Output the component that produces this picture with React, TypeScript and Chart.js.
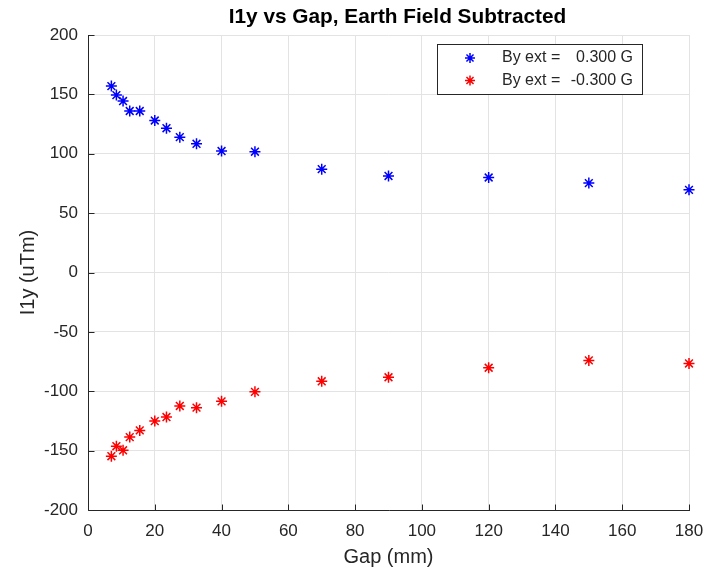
import React, { useEffect, useRef } from "react";
import { Chart, registerables } from "chart.js";

Chart.register(...registerables);

const gapMm = [7, 8.5, 10.5, 12.5, 15.5, 20, 23.5, 27.5, 32.5, 40, 50, 70, 90, 120, 150, 180];
const i1yPos = [157, 149.4, 144.4, 136, 136, 128, 121.5, 114, 108.4, 102.3, 101.7, 87, 81.3, 80, 75.3, 69.6];
const i1yNeg = [-154.7, -146.3, -149.7, -138.6, -133, -125.1, -121.7, -112.4, -113.8, -108.5, -100.5, -91.6, -88.2, -80.2, -74, -76.6];
const seriesLabels = ["By ext =   0.300 G", "By ext =  -0.300 G"];
const seriesColors = ["#0000ff", "#ff0000"];
const xRange = [0, 180, 20];
const yRange = [-200, 200, 50];
const chartTitle = "I1y vs Gap, Earth Field Subtracted";
const xTitle = "Gap (mm)";
const yTitle = "I1y (uTm)";

const FONT = "'Liberation Sans', Arial, Helvetica, sans-serif";
const INK = "#262626";

function drawStar(ctx: CanvasRenderingContext2D, cx: number, cy: number, r: number, color: string) {
  ctx.save();
  ctx.strokeStyle = color;
  ctx.lineWidth = 1.5;
  ctx.beginPath();
  ctx.moveTo(cx - r, cy);
  ctx.lineTo(cx + r, cy);
  ctx.moveTo(cx, cy - r);
  ctx.lineTo(cx, cy + r);
  const d = r * Math.SQRT1_2;
  ctx.moveTo(cx - d, cy - d);
  ctx.lineTo(cx + d, cy + d);
  ctx.moveTo(cx - d, cy + d);
  ctx.lineTo(cx + d, cy - d);
  ctx.stroke();
  ctx.restore();
}

const decorPlugin = {
  id: "matlabDecor",
  afterDraw(chart: any) {
    const { ctx, chartArea: a, scales } = chart;
    const xs = scales.x;
    const ys = scales.y;
    ctx.save();
    ctx.strokeStyle = INK;
    ctx.lineWidth = 1;
    const L = Math.round(a.left) + 0.5;
    const B = Math.round(a.bottom) + 0.5;
    ctx.beginPath();
    ctx.moveTo(L, Math.round(a.top));
    ctx.lineTo(L, B);
    ctx.lineTo(Math.round(a.right) + 1, B);
    ctx.stroke();
    ctx.beginPath();
    xs.ticks.forEach((t: any) => {
      const px = Math.round(xs.getPixelForValue(t.value)) + 0.5;
      ctx.moveTo(px, B);
      ctx.lineTo(px, B - 6);
    });
    ys.ticks.forEach((t: any) => {
      const py = Math.round(ys.getPixelForValue(t.value)) + 0.5;
      ctx.moveTo(L, py);
      ctx.lineTo(L + 6, py);
    });
    ctx.stroke();

    // title
    ctx.fillStyle = "#000000";
    ctx.font = `bold 20.8px ${FONT}`;
    ctx.textAlign = "center";
    ctx.textBaseline = "middle";
    ctx.fillText(chartTitle, a.left + 309.5, 17);

    // legend
    const bx = a.right - 252;
    const by = a.top + 9;
    const bw = 205;
    const bh = 50;
    ctx.fillStyle = "#ffffff";
    ctx.fillRect(bx, by, bw, bh);
    ctx.strokeStyle = INK;
    ctx.lineWidth = 1;
    ctx.strokeRect(bx + 0.5, by + 0.5, bw, bh);
    ctx.font = `16px ${FONT}`;
    ctx.textBaseline = "middle";
    seriesLabels.forEach((lab, i) => {
      const ry = by + 14 + i * 22.5;
      drawStar(ctx, bx + 33, ry, 5, seriesColors[i]);
      const eq = lab.indexOf("=");
      const left = lab.slice(0, eq + 1);
      const right = lab.slice(eq + 1).trim();
      ctx.fillStyle = INK;
      ctx.textAlign = "left";
      ctx.fillText(left, bx + 65, ry);
      ctx.textAlign = "right";
      ctx.fillText(right, bx + 196, ry);
    });
    ctx.restore();
  },
};

export default function App() {
  const ref = useRef<HTMLCanvasElement | null>(null);
  useEffect(() => {
    if (!ref.current) return;
    const mk = (ys: number[], i: number) => ({
      label: seriesLabels[i],
      data: gapMm.map((g, k) => ({ x: g, y: ys[k] })),
      showLine: false,
      pointStyle: "star" as const,
      pointRadius: 5.5,
      pointHoverRadius: 5.5,
      borderWidth: 1.5,
      borderColor: seriesColors[i],
      backgroundColor: seriesColors[i],
      clip: false as const,
    });
    const chart = new Chart(ref.current, {
      type: "scatter",
      data: { datasets: [mk(i1yPos, 0), mk(i1yNeg, 1)] },
      options: {
        animation: false,
        responsive: false,
        devicePixelRatio: 1,
        events: [],
        layout: { padding: { top: 35, right: 18, left: 0, bottom: 0 } },
        plugins: { legend: { display: false }, title: { display: false }, tooltip: { enabled: false } },
        scales: {
          x: {
            type: "linear",
            min: xRange[0],
            max: xRange[1],
            ticks: {
              stepSize: xRange[2],
              color: INK,
              font: { family: FONT, size: 17 },
              padding: 11,
              maxRotation: 0,
            },
            grid: { color: "#e3e3e3", drawTicks: false },
            border: { display: false },
            title: {
              display: true,
              text: xTitle,
              color: INK,
              font: { family: FONT, size: 20 },
              padding: { top: 0, bottom: 7 },
            },
            afterFit: (s: any) => {
              s.height = 66;
              s.paddingLeft = 0;
              s.paddingRight = 0;
            },
          },
          y: {
            type: "linear",
            min: yRange[0],
            max: yRange[1],
            ticks: {
              stepSize: yRange[2],
              color: INK,
              font: { family: FONT, size: 17 },
              padding: 10,
            },
            grid: { color: "#e3e3e3", drawTicks: false },
            border: { display: false },
            title: {
              display: true,
              text: yTitle,
              color: INK,
              font: { family: FONT, size: 20 },
              padding: { top: 16, bottom: 0 },
            },
            afterFit: (s: any) => {
              s.width = 88;
              s.paddingTop = 0;
              s.paddingBottom = 0;
            },
          },
        },
      },
      plugins: [decorPlugin],
    });
    return () => chart.destroy();
  }, []);
  return (
    <div style={{ position: "absolute", left: 0, top: 0, width: 707, height: 576, background: "#ffffff" }}>
      <canvas ref={ref} width={707} height={576} style={{ display: "block" }} />
    </div>
  );
}
